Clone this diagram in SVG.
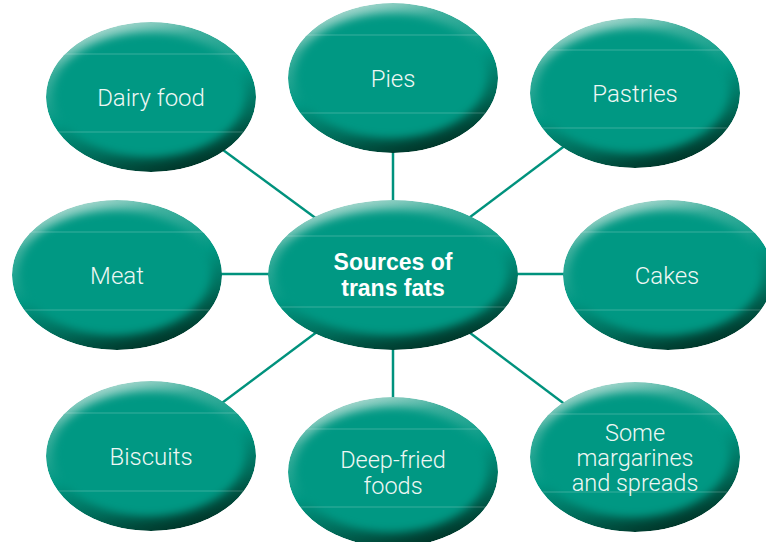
<svg xmlns="http://www.w3.org/2000/svg" xmlns:xlink="http://www.w3.org/1999/xlink" width="766" height="542" viewBox="0 0 766 542">
  <style>
    .label { font-family: Roboto, "Liberation Sans", "DejaVu Sans", sans-serif; font-weight: 300; font-size: 24px; fill: #eef7f4; text-anchor: middle; }
    .multi { font-size: 23.5px; }
    .title { font-family: "Liberation Sans", Arial, sans-serif; font-weight: 700; font-size: 23px; fill: #ffffff; text-anchor: middle; }
    .link { stroke: #00927d; stroke-width: 2.5; fill: none; }
    .seam { stroke: #ffffff; stroke-opacity: 0.22; stroke-width: 1; }
  </style>
  <defs>
    <!-- bevel shading: light rim at the top-left, dark rim at the bottom-right -->
    <linearGradient id="rim" x1="0.3" y1="0" x2="0.7" y2="1">
      <stop offset="0" stop-color="#b0dcd3"/>
      <stop offset="0.2" stop-color="#40b09e"/>
      <stop offset="0.5" stop-color="#009883"/>
      <stop offset="0.75" stop-color="#006a58"/>
      <stop offset="1" stop-color="#002e22"/>
    </linearGradient>
    <filter id="soft" x="-20%" y="-20%" width="140%" height="140%">
      <feGaussianBlur stdDeviation="4"/>
    </filter>
    <clipPath id="clipSmall"><ellipse rx="105" ry="75"/></clipPath>
    <clipPath id="clipLarge"><ellipse rx="125" ry="75"/></clipPath>

    <g id="bubble">
      <g clip-path="url(#clipSmall)">
        <ellipse rx="105" ry="75" fill="url(#rim)"/>
        <ellipse cx="-2" cy="-2" rx="96" ry="62" fill="#009883" filter="url(#soft)"/>
        <line x1="-110" y1="-43" x2="110" y2="-43" class="seam"/>
        <line x1="-110" y1="35" x2="110" y2="35" class="seam"/>
      </g>
    </g>
    <g id="hub">
      <g clip-path="url(#clipLarge)">
        <ellipse rx="125" ry="75" fill="url(#rim)"/>
        <ellipse cx="-2" cy="-2" rx="116" ry="62" fill="#009883" filter="url(#soft)"/>
        <line x1="-130" y1="-39" x2="130" y2="-39" class="seam"/>
        <line x1="-130" y1="32" x2="130" y2="32" class="seam"/>
      </g>
    </g>
  </defs>

  <rect width="766" height="542" fill="#ffffff"/>

  <!-- spokes from the hub to each source -->
  <g id="connectors">
    <line class="link" x1="151" y1="97" x2="393" y2="275"/>
    <line class="link" x1="393" y1="78" x2="393" y2="275"/>
    <line class="link" x1="635" y1="93" x2="393" y2="275"/>
    <line class="link" x1="117" y1="274" x2="393" y2="274"/>
    <line class="link" x1="668" y1="274" x2="393" y2="274"/>
    <line class="link" x1="151" y1="456" x2="393" y2="275"/>
    <line class="link" x1="393" y1="472" x2="393" y2="275"/>
    <line class="link" x1="635" y1="457" x2="393" y2="275"/>
  </g>

  <g id="node-dairy">
    <use xlink:href="#bubble" transform="translate(151,97)"/>
    <text class="label" x="151" y="106">Dairy food</text>
  </g>
  <g id="node-pies">
    <use xlink:href="#bubble" transform="translate(393,78)"/>
    <text class="label" x="393" y="87">Pies</text>
  </g>
  <g id="node-pastries">
    <use xlink:href="#bubble" transform="translate(635,93)"/>
    <text class="label" x="635" y="102">Pastries</text>
  </g>
  <g id="node-meat">
    <use xlink:href="#bubble" transform="translate(117,275)"/>
    <text class="label" x="117" y="284">Meat</text>
  </g>
  <g id="node-hub">
    <use xlink:href="#hub" transform="translate(393,275)"/>
    <text class="title" x="393" y="270">Sources of</text>
    <text class="title" x="393" y="296">trans fats</text>
  </g>
  <g id="node-cakes">
    <use xlink:href="#bubble" transform="translate(668,275)"/>
    <text class="label" x="667" y="284">Cakes</text>
  </g>
  <g id="node-biscuits">
    <use xlink:href="#bubble" transform="translate(151,456)"/>
    <text class="label" x="151" y="465">Biscuits</text>
  </g>
  <g id="node-deepfried">
    <use xlink:href="#bubble" transform="translate(393,472)"/>
    <text class="label multi" x="393" y="468">Deep-fried</text>
    <text class="label multi" x="393" y="494">foods</text>
  </g>
  <g id="node-margarines">
    <use xlink:href="#bubble" transform="translate(635,457)"/>
    <text class="label multi" x="635" y="441">Some</text>
    <text class="label multi" x="635" y="466">margarines</text>
    <text class="label multi" x="635" y="491">and spreads</text>
  </g>
</svg>
